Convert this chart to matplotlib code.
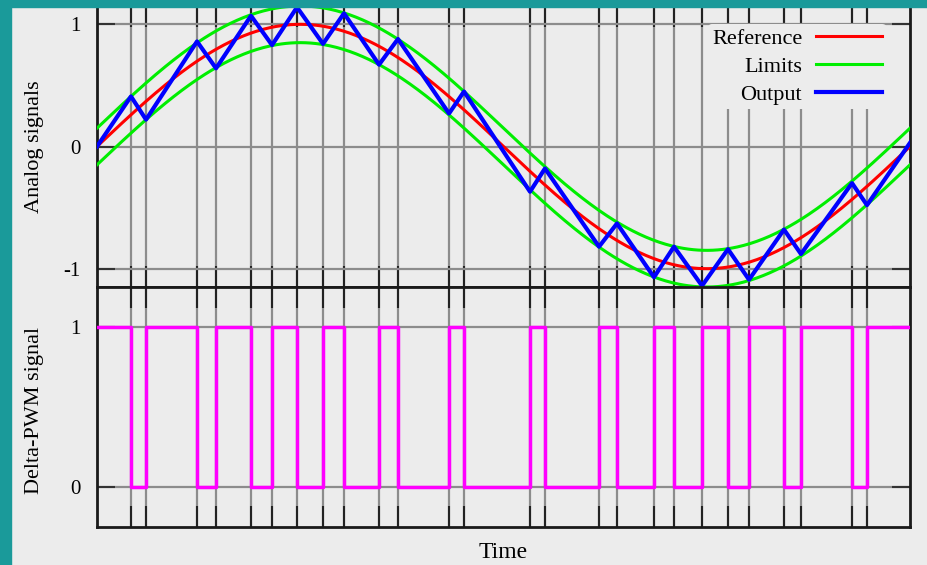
import numpy as np
import matplotlib
matplotlib.use('Agg')
import matplotlib.pyplot as plt
from matplotlib.patches import Rectangle

# switching instants (fraction of one period)
switch_t = [0.0418, 0.0603, 0.1230, 0.1464, 0.1894, 0.2153, 0.2460, 0.2780,
            0.3038, 0.3469, 0.3702, 0.4330, 0.4514, 0.5326, 0.5510, 0.6175,
            0.6396, 0.6851, 0.7097, 0.7442, 0.7761, 0.8020, 0.8450, 0.8659,
            0.9287, 0.9471]

# output (triangle) vertices
out_t = [0.0] + switch_t + [1.0]
out_y = [0.0, 0.41, 0.22, 0.86, 0.64, 1.07, 0.83, 1.14, 0.84, 1.09, 0.67, 0.88,
         0.27, 0.45, -0.37, -0.18, -0.82, -0.63, -1.07, -0.82, -1.14, -0.84,
         -1.09, -0.68, -0.88, -0.30, -0.48, 0.03]

# delta-PWM levels between switches
pwm_levels = [1, 0, 1, 0, 1, 0, 1, 0, 1, 0, 1, 0, 1, 0, 1, 0, 1, 0, 1, 0, 1, 0,
              1, 0, 1, 0, 1]

ref_amp = 1.0
limit_band = 0.15

bg = '#ececec'
teal = '#1a9a9a'
grid_c = '#8c8c8c'

plt.rcParams['font.family'] = ['Liberation Serif', 'DejaVu Serif']
plt.rcParams['axes.unicode_minus'] = False

W, H = 927, 565
fig = plt.figure(figsize=(W/100, H/100), dpi=100, facecolor=bg)

def px_axes(x0, y0, x1, y1):
	return fig.add_axes([x0/W, 1-y1/H, (x1-x0)/W, (y1-y0)/H])

ax1 = px_axes(97, 6, 910, 287)
ax2 = px_axes(97, 287, 910, 527)

t = np.linspace(0, 1, 500)
ref = ref_amp*np.sin(2*np.pi*t)

ax1.plot(t, ref, color='#ff0000', lw=2.2, label='Reference', zorder=3)
ax1.plot(t, ref+limit_band, color='#00ee00', lw=2.2, label='Limits', zorder=3)
ax1.plot(t, ref-limit_band, color='#00ee00', lw=2.2, zorder=3)
ax1.plot(out_t, out_y, color='#0000ff', lw=3, label='Output', zorder=4)

step_t = [0.0] + switch_t + [1.0]
step_y = pwm_levels + [pwm_levels[-1]]
ax2.step(step_t, step_y, where='post', color='#ff00ff', lw=2.5, zorder=3)

for ax, ylim, yt in [(ax1, (-1.15, 1.15), [-1, 0, 1]), (ax2, (-0.25, 1.25), [0, 1])]:
	ax.set_facecolor(bg)
	ax.set_xlim(0, 1)
	ax.set_ylim(*ylim)
	ax.set_xticks(switch_t)
	ax.set_xticklabels([])
	ax.set_yticks(yt)
	ax.grid(True, color=grid_c, lw=1.6)
	ax.set_axisbelow(True)
	ax.tick_params(axis='x', direction='in', length=15, width=1.5, top=True, color='#222222')
	ax.tick_params(axis='y', direction='in', length=13, width=1.5, right=True,
				   labelsize=15, pad=12, color='#333333')
	for s in ax.spines.values():
		s.set_linewidth(2)
		s.set_color('#1a1a1a')

leg = ax1.legend(loc='upper right', bbox_to_anchor=(0.985, 0.975), markerfirst=False,
				 fontsize=16, handlelength=3.0, handletextpad=0.6, labelspacing=0.33,
				 borderpad=0.2, frameon=True, facecolor=bg, edgecolor='none', framealpha=1)

fig.text(35/W, 1-147/H, 'Analog signals', rotation=90, ha='center', va='center', fontsize=16)
fig.text(35/W, 1-410/H, 'Delta-PWM signal', rotation=90, ha='center', va='center', fontsize=16)
fig.text(503/W, 1-553/H, 'Time', ha='center', va='center', fontsize=17)

# teal frame on left and top
fig.add_artist(Rectangle((0, 0), 11/W, 1, transform=fig.transFigure, color=teal, zorder=10))
fig.add_artist(Rectangle((0, 1-7/H), 1, 7/H, transform=fig.transFigure, color=teal, zorder=10))

fig.savefig('out.png', dpi=100, facecolor=bg)
